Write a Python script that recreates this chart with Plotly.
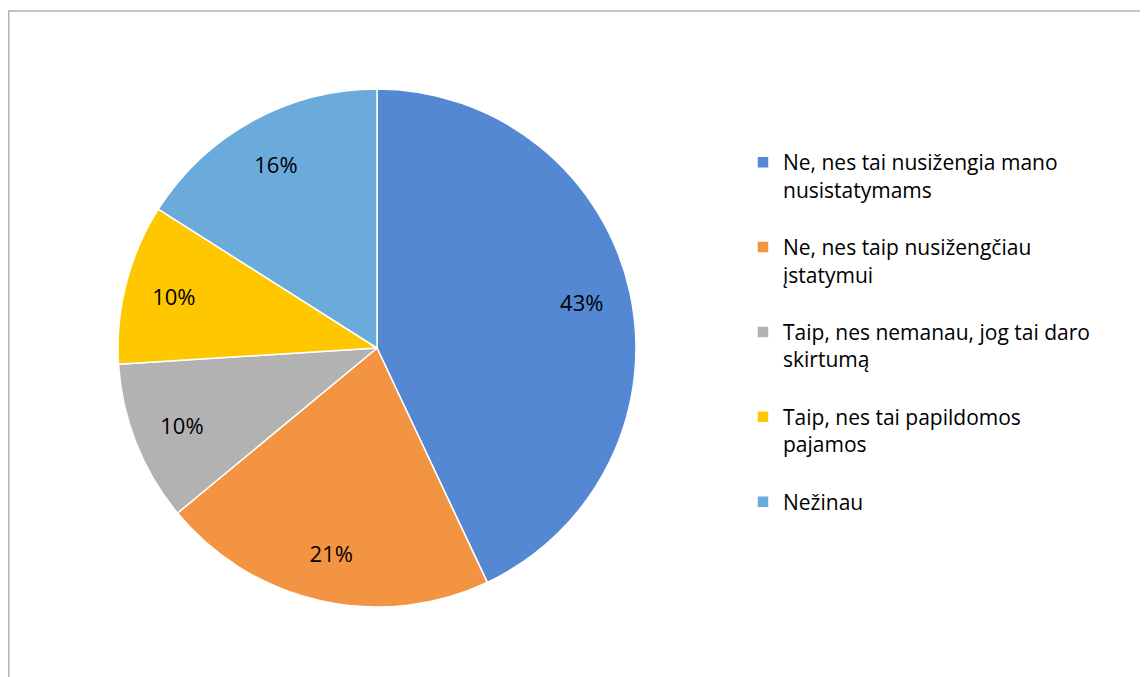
import plotly.graph_objects as go

labels = [
    "Ne, nes tai nusižengia mano<br>nusistatymams",
    "Ne, nes taip nusižengčiau<br>įstatymui",
    "Taip, nes nemanau, jog tai daro<br>skirtumą",
    "Taip, nes tai papildomos<br>pajamos",
    "Nežinau",
]
values = [43, 21, 10, 10, 16]
colors = ["#5588D3", "#F39442", "#B2B2B2", "#FFC700", "#6AABDB"]

# page body has an 8px margin, so the figure is drawn 8px in from the window edge
OFF = 8
W, H = 1148 - OFF, 677 - OFF
cx, cy, r = 377 - OFF, 348 - OFF, 259
domain = dict(x=[(cx - r) / W, (cx + r) / W], y=[1 - (cy + r) / H, 1 - (cy - r) / H])

legend_labels = [l + "<br> " if i < len(labels) - 1 else l for i, l in enumerate(labels)]

fig = go.Figure()
# the visible pie
fig.add_trace(go.Pie(
    labels=legend_labels, values=values,
    marker=dict(colors=colors, line=dict(color="white", width=1.5)),
    sort=False, direction="clockwise", rotation=0,
    textinfo="none", domain=domain, hoverinfo="label+percent", showlegend=True,
))
# transparent ring on top, used only to place the percentage labels in the outer part of each slice
fig.add_trace(go.Pie(
    labels=legend_labels, values=values, hole=0.62,
    marker=dict(colors=["rgba(0,0,0,0)"] * len(values), line=dict(width=0)),
    sort=False, direction="clockwise", rotation=0,
    texttemplate="%{value}%", textposition="inside",
    insidetextorientation="horizontal",
    textfont=dict(color="black", size=22, family="Open Sans"),
    domain=domain, hoverinfo="skip", showlegend=False,
))

fig.update_layout(
    width=W, height=H,
    margin=dict(l=0, r=0, t=0, b=0),
    paper_bgcolor="white",
    font=dict(family="Open Sans", color="black"),
    showlegend=True,
    legend=dict(
        x=735 / W, xanchor="left",
        y=1 - 134 / H, yanchor="top",
        font=dict(size=21, family="Open Sans", color="black"),
        valign="top",
        bgcolor="rgba(0,0,0,0)",
    ),
    shapes=[dict(type="rect", xref="paper", yref="paper",
                 x0=0.75 / W, x1=1.02, y0=-0.02, y1=1 - 3 / H,
                 line=dict(color="#B3B3B3", width=1.5), layer="below")],
)

fig.write_html("out.html")
